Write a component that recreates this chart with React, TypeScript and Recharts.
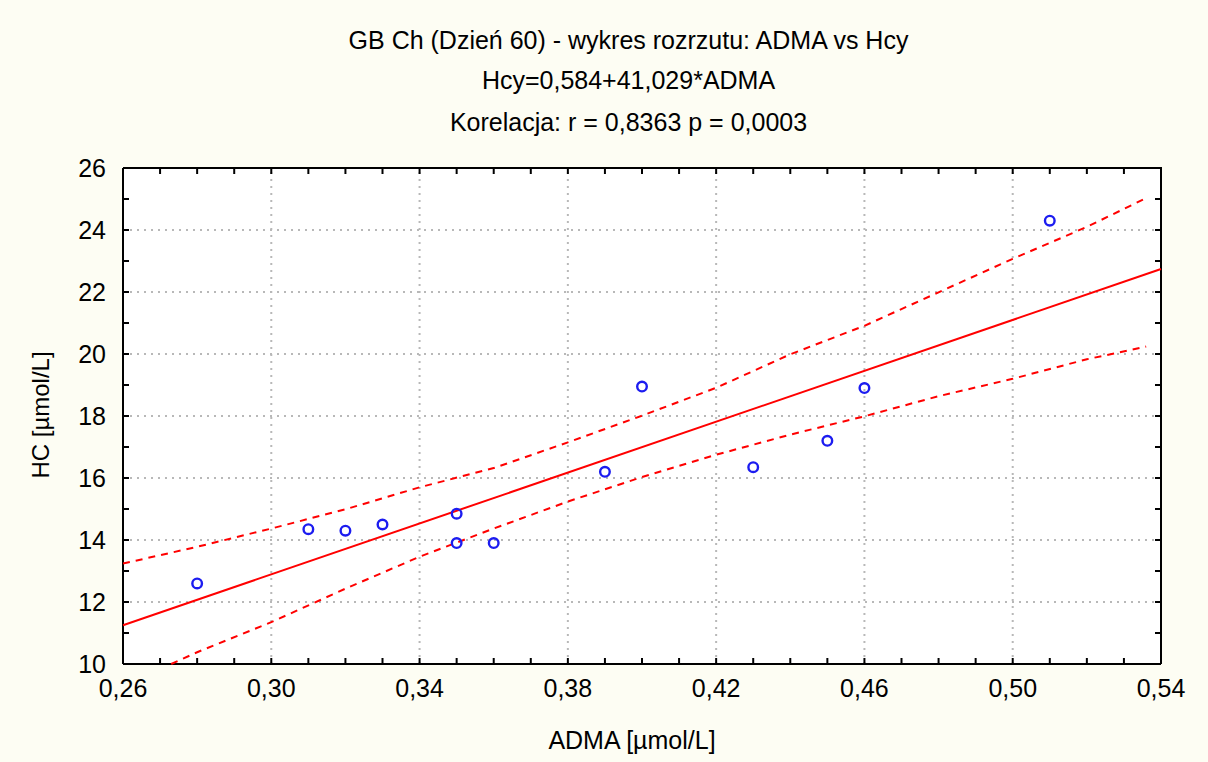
import { ScatterChart, Scatter, XAxis, YAxis, CartesianGrid, ReferenceLine } from "recharts";

// ADMA vs Hcy, Dzień 60
const admaValues = [0.28, 0.31, 0.32, 0.33, 0.35, 0.35, 0.36, 0.39, 0.4, 0.43, 0.45, 0.46, 0.51];
const hcValues = [12.6, 14.35, 14.3, 14.5, 14.85, 13.9, 13.9, 16.2, 18.95, 16.35, 17.2, 18.9, 24.3];

// regression line Hcy=0,584+41,029*ADMA
const fitX = [0.26, 0.54];
const fitY = [11.25, 22.74];

// 95% confidence band
const upperX = [0.26, 0.28, 0.3, 0.32, 0.34, 0.36, 0.38, 0.4, 0.42, 0.44, 0.46, 0.48, 0.5, 0.52, 0.536];
const upperY = [13.24, 13.78, 14.37, 14.99, 15.7, 16.32, 17.15, 18.01, 18.91, 19.99, 20.91, 21.99, 23.07, 24.1, 25.03];
const lowerX = [0.273, 0.28, 0.3, 0.32, 0.34, 0.36, 0.38, 0.4, 0.42, 0.44, 0.46, 0.48, 0.5, 0.52, 0.536];
const lowerY = [10.0, 10.38, 11.35, 12.43, 13.46, 14.37, 15.24, 16.03, 16.75, 17.4, 17.99, 18.64, 19.2, 19.83, 20.24];

const xTicks = [
  0.26, 0.27, 0.28, 0.29, 0.3, 0.31, 0.32, 0.33, 0.34, 0.35, 0.36, 0.37, 0.38, 0.39, 0.4,
  0.41, 0.42, 0.43, 0.44, 0.45, 0.46, 0.47, 0.48, 0.49, 0.5, 0.51, 0.52, 0.53, 0.54,
];
const xMajor = [0.26, 0.3, 0.34, 0.38, 0.42, 0.46, 0.5, 0.54];
const yTicks = [10, 11, 12, 13, 14, 15, 16, 17, 18, 19, 20, 21, 22, 23, 24, 25, 26];
const yMajor = [10, 12, 14, 16, 18, 20, 22, 24, 26];

const xMin = xMajor[0];
const xMax = xMajor[xMajor.length - 1];
const yMin = yMajor[0];
const yMax = yMajor[yMajor.length - 1];

const pairs = (xs: number[], ys: number[]) => xs.map((x, i) => ({ x, y: ys[i] }));

const points = pairs(admaValues, hcValues);
const fit = pairs(fitX, fitY);
const upper = pairs(upperX, upperY);
const lower = pairs(lowerX, lowerY);

// top and right sides of the frame, plus their tick positions
const frameTopRight = pairs([xMin, xMax, xMax], [yMax, yMax, yMin]);
const topTicks = xTicks.slice(1, -1).map((x) => ({ x, y: yMax }));
const rightTicks = yTicks.slice(1, -1).map((y) => ({ x: xMax, y }));

const font = "'Liberation Sans', Arial, sans-serif";
const red = "#ff0000";
const gridColor = "#b8b8b8";
const frame = { stroke: "#000", strokeWidth: 2 };

const fmtX = (v: number) => (xMajor.includes(v) ? v.toFixed(2).replace(".", ",") : "");
const fmtY = (v: number) => (yMajor.includes(v) ? String(v) : "");

const Circle = (props: any) => (
  <circle cx={props.cx} cy={props.cy} r={4.8} fill="none" stroke="#1c1cf0" strokeWidth={2.4} />
);
const NoDot = () => <g />;
const TopTick = (props: any) => (
  <line x1={props.cx} x2={props.cx} y1={props.cy} y2={props.cy + 6} stroke="#000" strokeWidth={2} />
);
const RightTick = (props: any) => (
  <line x1={props.cx} x2={props.cx - 6} y1={props.cy} y2={props.cy} stroke="#000" strokeWidth={2} />
);

const titleStyle = {
  position: "absolute" as const,
  left: 0,
  width: 1257,
  textAlign: "center" as const,
  fontSize: 25,
  lineHeight: "30px",
  color: "#000",
};

export default function App() {
  return (
    <div
      style={{
        position: "absolute",
        left: 0,
        top: 0,
        width: 1208,
        height: 762,
        background: "#fdfdf3",
        fontFamily: font,
      }}
    >
      <div style={{ ...titleStyle, top: 25 }}>GB Ch (Dzień 60) - wykres rozrzutu: ADMA vs Hcy</div>
      <div style={{ ...titleStyle, top: 65 }}>Hcy=0,584+41,029*ADMA</div>
      <div style={{ ...titleStyle, top: 107 }}>Korelacja: r = 0,8363 p = 0,0003</div>

      <ScatterChart width={1208} height={762} margin={{ top: 168, right: 47, bottom: 0, left: 0 }}>
        <CartesianGrid horizontal={false} vertical={false} fill="#ffffff" fillOpacity={1} />
        {xMajor.slice(1, -1).map((v) => (
          <ReferenceLine key={"gx" + v} x={v} stroke={gridColor} strokeWidth={2} strokeDasharray="2 5" />
        ))}
        {yMajor.slice(1, -1).map((v) => (
          <ReferenceLine key={"gy" + v} y={v} stroke={gridColor} strokeWidth={2} strokeDasharray="2 5" />
        ))}
        <XAxis
          type="number"
          dataKey="x"
          domain={[xMin, xMax]}
          ticks={xTicks}
          interval={0}
          tickFormatter={fmtX}
          height={98}
          tickSize={-6}
          tickMargin={21}
          axisLine={frame}
          tickLine={frame}
          tick={{ fontSize: 25, fill: "#000", fontFamily: font }}
        />
        <YAxis
          type="number"
          dataKey="y"
          domain={[yMin, yMax]}
          ticks={yTicks}
          interval={0}
          tickFormatter={fmtY}
          width={123}
          tickSize={-6}
          tickMargin={23}
          axisLine={frame}
          tickLine={frame}
          tick={{ fontSize: 25, fill: "#000", fontFamily: font }}
        />
        <Scatter data={frameTopRight} shape={NoDot} line={frame} isAnimationActive={false} />
        <Scatter data={topTicks} shape={TopTick} isAnimationActive={false} />
        <Scatter data={rightTicks} shape={RightTick} isAnimationActive={false} />
        <Scatter
          data={upper}
          shape={NoDot}
          line={{ stroke: red, strokeWidth: 2, strokeDasharray: "7 6" }}
          isAnimationActive={false}
        />
        <Scatter
          data={lower}
          shape={NoDot}
          line={{ stroke: red, strokeWidth: 2, strokeDasharray: "7 6" }}
          isAnimationActive={false}
        />
        <Scatter data={fit} shape={NoDot} line={{ stroke: red, strokeWidth: 2 }} isAnimationActive={false} />
        <Scatter data={points} shape={Circle} isAnimationActive={false} />
      </ScatterChart>

      <div
        style={{
          position: "absolute",
          left: 41,
          top: 415,
          transform: "translate(-50%, -50%) rotate(-90deg)",
          whiteSpace: "nowrap",
          fontSize: 24,
          color: "#000",
        }}
      >
        HC [µmol/L]
      </div>
      <div
        style={{
          position: "absolute",
          left: 632,
          top: 740,
          transform: "translate(-50%, -50%)",
          whiteSpace: "nowrap",
          fontSize: 25,
          color: "#000",
        }}
      >
        ADMA [µmol/L]
      </div>
    </div>
  );
}
